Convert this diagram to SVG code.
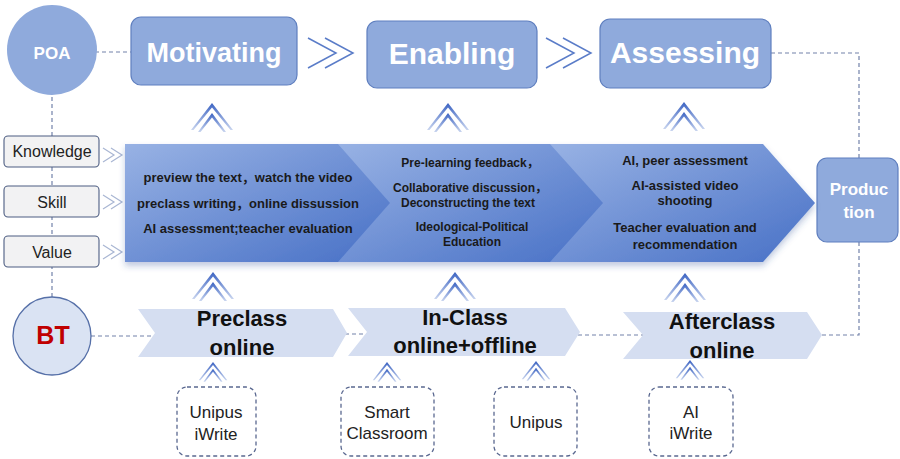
<svg xmlns="http://www.w3.org/2000/svg" xmlns:xlink="http://www.w3.org/1999/xlink" width="900" height="459" viewBox="0 0 900 459">
  <defs>
    <style>
      text { font-family: "Liberation Sans", "Noto Sans CJK SC", sans-serif; text-anchor: middle; }
      .phase { fill: #8faadc; stroke: #5f7fbf; stroke-width: 1.2; }
      .phase-t { fill: #ffffff; font-weight: bold; }
      .dim { fill: #f2f2f3; stroke: #4d5d82; stroke-width: 1.1; }
      .dim-t { fill: #222222; font-size: 16px; }
      .band-t { fill: #1a1a1a; font-weight: bold; }
      .stage { fill: #d5def1; }
      .stage-t { fill: #111111; font-weight: bold; font-size: 22px; }
      .tool { fill: #ffffff; stroke: #5a6890; stroke-width: 1.3; stroke-dasharray: 4 3; }
      .tool-t { fill: #222222; font-size: 17px; }
      .dash { fill: none; stroke: #7282aa; stroke-width: 1.2; stroke-dasharray: 4 3; }
      .next { fill: none; stroke: #5a7cc8; stroke-width: 1.5; }
      .next-s { fill: none; stroke: #a9b6d3; stroke-width: 1.2; }
    </style>
    <linearGradient id="seg" x1="0" y1="0" x2="1" y2="1">
      <stop offset="0" stop-color="#98b2e4"/>
      <stop offset="1" stop-color="#4770c6"/>
    </linearGradient>
    <linearGradient id="up" x1="0" y1="0" x2="0" y2="1">
      <stop offset="0" stop-color="#3a62c2"/>
      <stop offset="1" stop-color="#c9d5ef"/>
    </linearGradient>
    <filter id="shadow" x="-5%" y="-10%" width="110%" height="130%">
      <feDropShadow dx="0" dy="4" stdDeviation="3" flood-color="#2c4f96" flood-opacity="0.3"/>
    </filter>
    <!-- double up-chevron -->
    <g id="upArrow">
      <polygon fill="url(#up)" points="0,0 21,27 18.5,27 0,4.5 -18.5,27 -21,27"/>
      <polygon fill="url(#up)" points="0,10 14,29 11.5,29 0,14.5 -11.5,29 -14,29"/>
    </g>
  </defs>

  <!-- dashed links, flow chevrons and up-arrows -->
  <g id="connectors">
    <path class="dash" d="M95,52 H131"/>
    <path class="dash" d="M52,97 V297"/>
    <path class="dash" d="M771,53 H859 V158"/>
    <path class="dash" d="M859,242 V335 H822"/>
    <path class="dash" d="M91,336 H155"/>
    <path class="dash" d="M345,334 H367"/>
    <path class="dash" d="M578,335 H643"/>

    <path class="next" d="M308,38 L336,53 L308,68 M325,38 L353,53 L325,68"/>
    <path class="next" d="M546,38 L574,53 L546,68 M563,38 L591,53 L563,68"/>

    <path class="next-s" d="M103,148 L114,155 L103,162 M111,148 L122,155 L111,162"/>
    <path class="next-s" d="M103,195 L114,202 L103,209 M111,195 L122,202 L111,209"/>
    <path class="next-s" d="M103,245 L114,252 L103,259 M111,245 L122,252 L111,259"/>

    <use xlink:href="#upArrow" transform="translate(212,103)"/>
    <use xlink:href="#upArrow" transform="translate(448,103)"/>
    <use xlink:href="#upArrow" transform="translate(684,102)"/>

    <use xlink:href="#upArrow" transform="translate(213,272)"/>
    <use xlink:href="#upArrow" transform="translate(455,272)"/>
    <use xlink:href="#upArrow" transform="translate(685,273)"/>

    <use xlink:href="#upArrow" transform="translate(213,362) scale(0.68)"/>
    <use xlink:href="#upArrow" transform="translate(387,362) scale(0.68)"/>
    <use xlink:href="#upArrow" transform="translate(536,361) scale(0.68)"/>
    <use xlink:href="#upArrow" transform="translate(690,360) scale(0.68)"/>
  </g>

  <!-- POA -->
  <g id="poa">
    <circle cx="52" cy="50" r="45" fill="#8faadc"/>
    <text class="phase-t" x="52" y="59" font-size="17">POA</text>
  </g>

  <g id="motivating">
    <rect class="phase" x="131" y="17" width="166" height="68" rx="10"/>
    <text class="phase-t" x="214" y="62" font-size="27">Motivating</text>
  </g>
  <g id="enabling">
    <rect class="phase" x="367" y="21" width="170" height="67" rx="10"/>
    <text class="phase-t" x="452" y="64" font-size="30">Enabling</text>
  </g>
  <g id="assessing">
    <rect class="phase" x="600" y="19" width="171" height="69" rx="10"/>
    <text class="phase-t" x="685" y="63" font-size="30">Assessing</text>
  </g>

  <g id="production">
    <rect class="phase" x="817" y="158" width="81" height="84" rx="10"/>
    <text class="phase-t" x="859" y="195" font-size="17">Produc</text>
    <text class="phase-t" x="859" y="218" font-size="17">tion</text>
  </g>

  <!-- teaching goals -->
  <g id="knowledge">
    <rect class="dim" x="4" y="136" width="95" height="31" rx="4"/>
    <text class="dim-t" x="52" y="157" font-size="15.5">Knowledge</text>
  </g>
  <g id="skill">
    <rect class="dim" x="4" y="186" width="95" height="31" rx="4"/>
    <text class="dim-t" x="52" y="208">Skill</text>
  </g>
  <g id="value">
    <rect class="dim" x="4" y="236" width="95" height="31" rx="4"/>
    <text class="dim-t" x="52" y="258">Value</text>
  </g>

  <!-- activity band -->
  <g id="activities">
    <g filter="url(#shadow)">
      <polygon fill="url(#seg)" points="550,144 763,144 815,203 763,262 550,262"/>
      <polygon fill="url(#seg)" points="338,144 550,144 603,203 550,262 338,262"/>
      <polygon fill="url(#seg)" points="125,144 338,144 390,203 338,262 125,262"/>
    </g>
    <g class="band-t" font-size="13">
      <text x="248" y="182">preview the text，watch the video</text>
      <text x="248" y="208">preclass writing，online dissussion</text>
      <text x="248" y="233">AI assessment;teacher evaluation</text>
    </g>
    <g class="band-t" font-size="12">
      <text x="470" y="167">Pre-learning feedback，</text>
      <text x="470" y="192">Collaborative discussion，</text>
      <text x="468" y="207">Deconstructing the text</text>
      <text x="472" y="231">Ideological-Political</text>
      <text x="472" y="246">Education</text>
    </g>
    <g class="band-t" font-size="13">
      <text x="685" y="165">AI, peer assessment</text>
      <text x="685" y="190">AI-assisted video</text>
      <text x="685" y="205">shooting</text>
      <text x="685" y="232">Teacher evaluation and</text>
      <text x="685" y="249">recommendation</text>
    </g>
  </g>

  <!-- BT -->
  <g id="bt">
    <circle cx="52" cy="336" r="39" fill="#dae3f3" stroke="#5670a8" stroke-width="1.3"/>
    <text x="53" y="344" font-size="25" font-weight="bold" fill="#c00000">BT</text>
  </g>

  <g id="preclass">
    <polygon class="stage" points="138,309 333,309 347,333 333,357 138,357 155,333"/>
    <text class="stage-t" x="242" y="326">Preclass</text>
    <text class="stage-t" x="242" y="355">online</text>
  </g>
  <g id="inclass">
    <polygon class="stage" points="348,308 565,308 580,332 565,356 348,356 367,332"/>
    <text class="stage-t" x="465" y="325">In-Class</text>
    <text class="stage-t" x="465" y="353">online+offline</text>
  </g>
  <g id="afterclass">
    <polygon class="stage" points="623,312 807,312 822,335 807,359 623,359 643,335"/>
    <text class="stage-t" x="722" y="329">Afterclass</text>
    <text class="stage-t" x="722" y="358">online</text>
  </g>

  <!-- platforms -->
  <g id="unipus-iwrite">
    <rect class="tool" x="177" y="387" width="79" height="69" rx="10"/>
    <text class="tool-t" x="216" y="418">Unipus</text>
    <text class="tool-t" x="216" y="440">iWrite</text>
  </g>
  <g id="smart-classroom">
    <rect class="tool" x="341" y="387" width="93" height="69" rx="10"/>
    <text class="tool-t" x="387" y="418" font-size="15">Smart</text>
    <text class="tool-t" x="387" y="439" font-size="15">Classroom</text>
  </g>
  <g id="unipus">
    <rect class="tool" x="494" y="387" width="83" height="69" rx="10"/>
    <text class="tool-t" x="536" y="428">Unipus</text>
  </g>
  <g id="ai-iwrite">
    <rect class="tool" x="649" y="387" width="84" height="69" rx="10"/>
    <text class="tool-t" x="691" y="418">AI</text>
    <text class="tool-t" x="691" y="439">iWrite</text>
  </g>
</svg>
